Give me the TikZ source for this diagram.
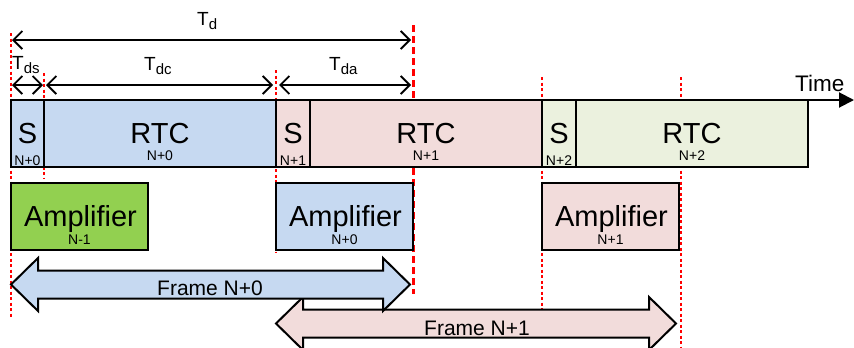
\documentclass[tikz,border=0pt]{standalone}
\usepackage{fontspec}
\setmainfont{Liberation Sans}
\usetikzlibrary{arrows.meta}

\definecolor{slotblue}{RGB}{198,217,241}
\definecolor{slotpink}{RGB}{242,220,219}
\definecolor{slotgreen}{RGB}{235,241,222}
\definecolor{ampgreen}{RGB}{146,208,80}

\newcommand{\bigtxt}{\fontsize{29}{29}\selectfont}
\newcommand{\idxtxt}{\fontsize{14}{14}\selectfont}
\newcommand{\tlbl}[1]{\fontsize{19}{19}\selectfont T\raisebox{-3.5pt}{\fontsize{15}{15}\selectfont #1}}

\tikzset{
  marker/.style={red, line width=1.5pt, dash pattern=on 3pt off 2.5pt},
  markerthick/.style={red, line width=3pt, dash pattern=on 7pt off 4pt},
  slot/.style={draw=black, line width=2pt, rectangle, inner sep=0pt, outer sep=0pt,
    anchor=north west, minimum height=67pt},
  ampbox/.style={draw=black, line width=2pt, rectangle, inner sep=0pt, outer sep=0pt,
    anchor=north west, minimum height=67pt, minimum width=137pt},
  span/.style={line width=1.8pt,
    {Straight Barb[length=9pt,width=18pt]}-{Straight Barb[length=9pt,width=18pt]}},
  framearrow/.style={draw=black, line width=2pt, line join=miter},
  txt/.style={inner sep=0pt, text=black, anchor=base},
  txtw/.style={inner sep=0pt, text=black, anchor=base west},
}

\begin{document}
\begin{tikzpicture}[x=1pt,y=-1pt]
\useasboundingbox (0,0) rectangle (854,348);

% frame boundary markers (behind the slots)
\draw[marker] (11,33) -- (11,318);
\draw[marker] (44,73) -- (44,178);
\draw[marker] (276,70) -- (276,252);
\draw[markerthick] (413,25) -- (413,294);
\draw[marker] (542,77) -- (542,310);
\draw[marker] (681,77) -- (681,348);

% slot sequence
\node[slot, fill=slotblue,  minimum width=33pt]  (s0) at (11,100) {};
\node[slot, fill=slotblue,  minimum width=232pt] (r0) at (44,100) {};
\node[slot, fill=slotpink,  minimum width=34pt]  (s1) at (276,100) {};
\node[slot, fill=slotpink,  minimum width=232pt] (r1) at (310,100) {};
\node[slot, fill=slotgreen, minimum width=34pt]  (s2) at (542,100) {};
\node[slot, fill=slotgreen, minimum width=232pt] (r2) at (576,100) {};

% time axis
\coordinate (tend) at (854,100);
\draw[line width=2pt, -{Triangle[length=15pt,width=15pt]}] (s0.north west) -- (tend);
\node[txtw] (time) at (795,91.5) {\fontsize{22.5}{22.5}\selectfont Time};

% slot labels
\foreach \b/\i in {s0/N+0, s1/N+1, s2/N+2}{
  \node[txt] (\b t) at ([yshift=-43.3pt]\b.north) {\bigtxt S};
  \node[txt] (\b i) at ([yshift=-65pt]\b.north) {\idxtxt \i};
}
\foreach \b/\i in {r0/N+0, r1/N+1, r2/N+2}{
  \node[txt] (\b t) at ([yshift=-43.3pt]\b.north) {\bigtxt RTC};
  \node[txt] (\b i) at ([yshift=-60.7pt]\b.north) {\idxtxt \i};
}

% amplifier stages
\node[ampbox, fill=ampgreen] (a0) at (11,183) {};
\node[ampbox, fill=slotblue] (a1) at (276,183) {};
\node[ampbox, fill=slotpink] (a2) at (542,183) {};
\foreach \a/\i in {a0/N-1, a1/N+0, a2/N+1}{
  \node[txt] (\a t) at ([xshift=1pt,yshift=-43.7pt]\a.north) {\bigtxt Amplifier};
  \node[txt] (\a i) at ([yshift=-61pt]\a.north) {\idxtxt \i};
}

% delay spans
\coordinate (d0) at (12,40);   \coordinate (d1) at (411,40);
\coordinate (p0) at (12,85);   \coordinate (p1) at (43,85);
\coordinate (c0) at (46,85);   \coordinate (c1) at (273,85);
\coordinate (q0) at (279,85);  \coordinate (q1) at (411,85);
\draw[span] (d0) -- (d1);
\draw[span] (p0) -- (p1);
\draw[span] (c0) -- (c1);
\draw[span] (q0) -- (q1);
\node[txtw] (td)  at (197,25.5) {\tlbl{d}};
\node[txtw] (tds) at (12,69.5)  {\tlbl{ds}};
\node[txtw] (tdc) at (144,70.5) {\tlbl{dc}};
\node[txtw] (tda) at (329,70.5) {\tlbl{da}};

% frames
\fill[slotpink, framearrow] (276,323.5) -- (303,297) -- (303,309.5) -- (649,309.5) -- (649,297)
  -- (676,323.5) -- (649,350) -- (649,337.5) -- (303,337.5) -- (303,350) -- cycle;
\fill[slotblue, framearrow] (11,284.5) -- (38,258) -- (38,270.5) -- (383,270.5) -- (383,258)
  -- (410,284.5) -- (383,311) -- (383,298.5) -- (38,298.5) -- (38,311) -- cycle;
\node[txtw] (f0) at (157,295) {\fontsize{21}{21}\selectfont Frame N+0};
\node[txtw] (f1) at (424,335) {\fontsize{21}{21}\selectfont Frame N+1};
\end{tikzpicture}
\end{document}
